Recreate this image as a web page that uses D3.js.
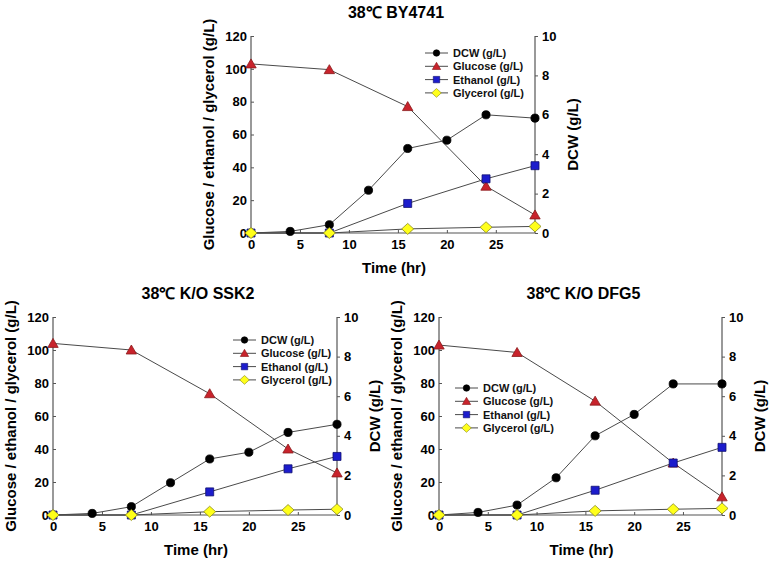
<!DOCTYPE html>
<html><head><meta charset="utf-8">
<script src="https://cdn.jsdelivr.net/npm/d3@7"></script>
<style>body{margin:0;background:#fff}svg{display:block}text{font-family:"Liberation Sans",Arial,sans-serif}</style>
</head><body><svg id="c" width="770" height="564"></svg>
<script>
const timeFull = [0, 4, 8, 12, 16, 20, 24, 29];
const timeSub = [0, 8, 16, 24, 29];
const xTicks = [0, 5, 10, 15, 20, 25];
const leftTicks = [0, 20, 40, 60, 80, 100, 120];
const rightTicks = [0, 2, 4, 6, 8, 10];
const seriesNames = ["DCW (g/L)", "Glucose (g/L)", "Ethanol (g/L)", "Glycerol (g/L)"];
const titles = ["38℃ BY4741", "38℃ K/O SSK2", "38℃ K/O DFG5"];

// BY4741
const dcwBY = [0, 0.08, 0.42, 2.17, 4.29, 4.71, 6.0, 5.83];
const gluBY = [103, 99.5, 77, 28.5, 11];
const ethBY = [0, 0, 18, 33, 41];
const glyBY = [0, 0, 2.5, 3.5, 4];
// SSK2
const dcwSSK2 = [0, 0.08, 0.42, 1.63, 2.83, 3.17, 4.17, 4.58];
const gluSSK2 = [104, 100, 73.5, 40, 25.5];
const ethSSK2 = [0, 0, 14, 28, 35.5];
const glySSK2 = [0, 0, 2, 3, 3.5];
// DFG5
const dcwDFG5 = [0, 0.13, 0.5, 1.88, 4.0, 5.08, 6.62, 6.62];
const gluDFG5 = [103, 98.5, 69, 31.5, 11];
const ethDFG5 = [0, 0, 15, 31.5, 41];
const glyDFG5 = [0, 0, 2.5, 3.5, 4];

const svg = d3.select("#c");
const font = '"Liberation Sans",Arial,sans-serif';

const styles = [
  {type: "circle", fill: "#000", stroke: "#000"},
  {type: "triangle", fill: "#c8232c", stroke: "#8a1a1a"},
  {type: "square", fill: "#1c1ccc", stroke: "#101070"},
  {type: "diamond", fill: "#ffff1a", stroke: "#8a8a20"}
];

function markerPath(type) {
  if (type === "circle") return d3.symbol(d3.symbolCircle, 52)();
  if (type === "triangle") return "M0,-5L5.2,4L-5.2,4Z";
  if (type === "square") return "M-4,-4H4V4H-4Z";
  return "M0,-5.5L6,0L0,5.5L-6,0Z";
}

function drawChart(cfg) {
  const {left, right, top, bottom, title, dcw, glu, eth, gly, legendX, legendY} = cfg;
  const x = d3.scaleLinear().domain([0, 29]).range([left, right]);
  const yL = d3.scaleLinear().domain([0, 120]).range([bottom, top]);
  const yR = d3.scaleLinear().domain([0, 10]).range([bottom, top]);
  const g = svg.append("g");

  // axes
  const ax = g.append("g").attr("transform", `translate(0,${bottom})`)
    .call(d3.axisBottom(x).tickValues(xTicks).tickSize(-3).tickPadding(7));
  const al = g.append("g").attr("transform", `translate(${left},0)`)
    .call(d3.axisLeft(yL).tickValues(leftTicks).tickSize(-3).tickPadding(4));
  const ar = g.append("g").attr("transform", `translate(${right},0)`)
    .call(d3.axisRight(yR).tickValues(rightTicks).tickSize(3).tickPadding(4));
  [ax, al, ar].forEach(a => {
    a.select(".domain").attr("stroke", "#555").attr("stroke-width", 1.2);
    a.selectAll(".tick line").attr("stroke", "#555");
    a.selectAll(".tick text").attr("font-family", font).attr("font-size", 13).attr("font-weight", "bold").attr("fill", "#000");
  });
  // remove outer ticks on domain
  ax.select(".domain").attr("d", `M${left},0H${right}`);
  al.select(".domain").attr("d", `M0,${top}V${bottom}`);
  ar.select(".domain").attr("d", `M0,${top}V${bottom}`);

  const line = (xs, ys, yScale) => d3.line().x((d, i) => x(xs[i])).y(d => yScale(d))(ys);
  const sets = [
    {xs: timeFull, ys: dcw, s: yR},
    {xs: timeSub, ys: glu, s: yL},
    {xs: timeSub, ys: eth, s: yL},
    {xs: timeSub, ys: gly, s: yL}
  ];
  sets.forEach(d => {
    g.append("path").attr("d", line(d.xs, d.ys, d.s)).attr("fill", "none").attr("stroke", "#4a4a4a").attr("stroke-width", 1);
  });
  sets.forEach((d, k) => {
    g.selectAll(null).data(d.ys).enter().append("path")
      .attr("d", markerPath(styles[k].type))
      .attr("transform", (v, i) => `translate(${x(d.xs[i])},${d.s(v)})`)
      .attr("fill", styles[k].fill).attr("stroke", styles[k].stroke).attr("stroke-width", 0.8);
  });

  // titles
  g.append("text").attr("x", (left + right) / 2 + 3).attr("y", top - 18).attr("text-anchor", "middle")
    .attr("font-size", 16).attr("font-weight", "bold").text(title);
  g.append("text").attr("x", (left + right) / 2 + 1).attr("y", bottom + 40).attr("text-anchor", "middle")
    .attr("font-size", 15).attr("font-weight", "bold").text("Time (hr)");
  g.append("text").attr("transform", `translate(${left - 37},${(top + bottom) / 2}) rotate(-90)`)
    .attr("text-anchor", "middle").attr("font-size", 15).attr("font-weight", "bold")
    .text("Glucose / ethanol / glycerol (g/L)");
  g.append("text").attr("transform", `translate(${right + 43},${(top + bottom) / 2}) rotate(-90)`)
    .attr("text-anchor", "middle").attr("font-size", 15).attr("font-weight", "bold")
    .text("DCW (g/L)");

  // legend
  seriesNames.forEach((n, k) => {
    const yy = legendY + k * 13.3;
    g.append("line").attr("x1", legendX).attr("x2", legendX + 23).attr("y1", yy).attr("y2", yy)
      .attr("stroke", "#4a4a4a").attr("stroke-width", 1);
    g.append("path").attr("d", markerPath(styles[k].type))
      .attr("transform", `translate(${legendX + 11.5},${yy}) scale(0.8)`)
      .attr("fill", styles[k].fill).attr("stroke", styles[k].stroke).attr("stroke-width", 0.8);
    g.append("text").attr("x", legendX + 28).attr("y", yy + 4).attr("font-size", 11)
      .attr("font-weight", "bold").attr("fill", "#111").text(n);
  });
}

drawChart({left: 251, right: 535, top: 36, bottom: 233, title: titles[0],
  dcw: dcwBY, glu: gluBY, eth: ethBY, gly: glyBY, legendX: 425, legendY: 53});
drawChart({left: 53, right: 337, top: 317, bottom: 515, title: titles[1],
  dcw: dcwSSK2, glu: gluSSK2, eth: ethSSK2, gly: glySSK2, legendX: 233, legendY: 340});
drawChart({left: 439, right: 722, top: 317, bottom: 515, title: titles[2],
  dcw: dcwDFG5, glu: gluDFG5, eth: ethDFG5, gly: glyDFG5, legendX: 455, legendY: 388});
</script></body></html>
